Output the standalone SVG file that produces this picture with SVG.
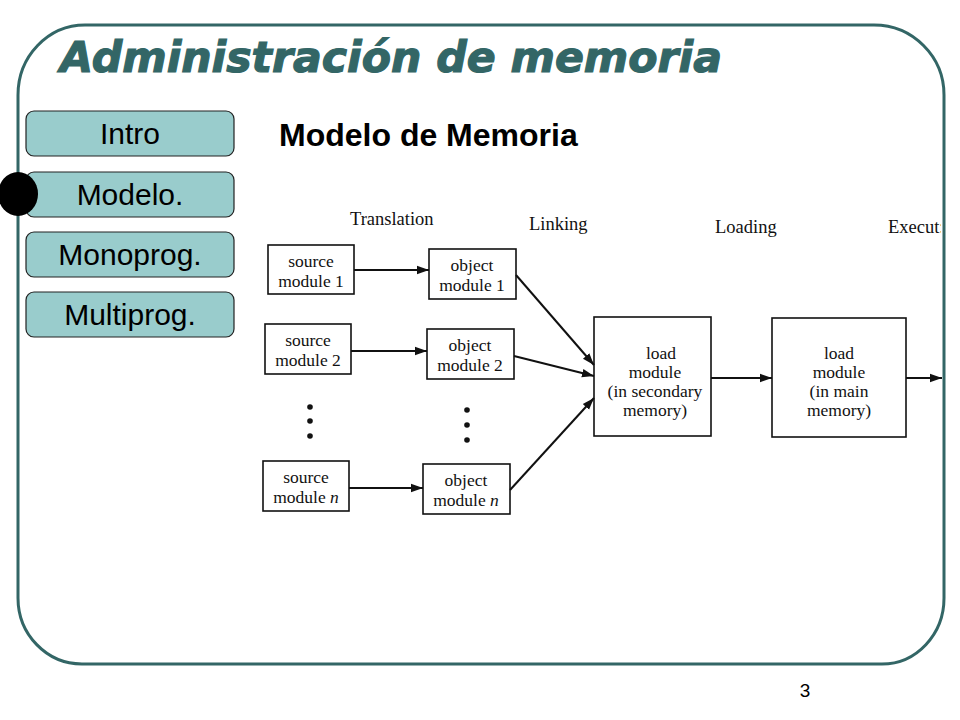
<svg xmlns="http://www.w3.org/2000/svg" width="960" height="720" viewBox="0 0 960 720">
<defs>
<style>
.btn{fill:#99CCCC;stroke:#222;stroke-width:1.2}
.btxt{font-family:"Liberation Sans",Arial,sans-serif;font-size:30px;fill:#000;text-anchor:middle}
.box{fill:#fff;stroke:#111;stroke-width:1.6}
.t{font-family:"Liberation Serif","Times New Roman",serif;font-size:17.5px;fill:#111;text-anchor:middle}
.lbl{font-family:"Liberation Serif","Times New Roman",serif;font-size:18.5px;fill:#111}
.arr{stroke:#111;stroke-width:2;fill:none;marker-end:url(#ah)}
</style>
<marker id="ah" viewBox="0 0 10 10" refX="10" refY="5" markerWidth="6" markerHeight="6" markerUnits="strokeWidth" orient="auto">
<path d="M0,1.5 L10,5 L0,8.5 Z" fill="#111"/>
</marker>
<clipPath id="imgclip"><rect x="250" y="190" width="691" height="340"/></clipPath>
</defs>
<rect width="960" height="720" fill="#fff"/>
<path d="M 85 25 H 874 A 70 70 0 0 1 944 95 V 598 A 62 66 0 0 1 882 664 H 82 A 64 66 0 0 1 18 598 V 95 A 67 70 0 0 1 85 25 Z" fill="none" stroke="#336666" stroke-width="3"/>
<text x="60" y="72" font-family="'DejaVu Sans',Verdana,sans-serif" font-weight="bold" font-style="italic" font-size="43" fill="#336666" stroke="#336666" stroke-width="1.2" textLength="662" lengthAdjust="spacingAndGlyphs">Administración de memoria</text>

<g id="menu-intro"><rect class="btn" x="26" y="111" width="208" height="45" rx="8"/><text class="btxt" x="130" y="144">Intro</text></g>
<g id="menu-modelo"><rect class="btn" x="26" y="172" width="208" height="45" rx="8"/><text class="btxt" x="130" y="205">Modelo.</text></g>
<g id="menu-monoprog"><rect class="btn" x="26" y="232" width="208" height="45" rx="8"/><text class="btxt" x="130" y="265">Monoprog.</text></g>
<g id="menu-multiprog"><rect class="btn" x="26" y="292" width="208" height="45" rx="8"/><text class="btxt" x="130" y="325">Multiprog.</text></g>
<ellipse id="bullet" cx="18" cy="194" rx="20" ry="22" fill="#000"/>

<text x="279" y="146" font-family="'Liberation Sans',Arial,sans-serif" font-weight="bold" font-size="32" fill="#000">Modelo de Memoria</text>

<g id="stage-labels" clip-path="url(#imgclip)">
<text class="lbl" x="350" y="225">Translation</text>
<text class="lbl" x="529" y="230">Linking</text>
<text class="lbl" x="715" y="233">Loading</text>
<text class="lbl" x="888" y="233">Execut:</text>
</g>

<g id="source1"><rect class="box" x="268" y="245" width="86" height="49"/><text class="t" x="311" y="267">source</text><text class="t" x="311" y="287">module 1</text></g>
<g id="source2"><rect class="box" x="265" y="324" width="86" height="50"/><text class="t" x="308" y="346">source</text><text class="t" x="308" y="366">module 2</text></g>
<g id="sourcen"><rect class="box" x="263" y="461" width="86" height="50"/><text class="t" x="306" y="483">source</text><text class="t" x="306" y="503">module <tspan font-style="italic">n</tspan></text></g>

<g id="object1"><rect class="box" x="429" y="249" width="87" height="50"/><text class="t" x="472" y="271">object</text><text class="t" x="472" y="291">module 1</text></g>
<g id="object2"><rect class="box" x="427" y="329" width="87" height="50"/><text class="t" x="470" y="351">object</text><text class="t" x="470" y="371">module 2</text></g>
<g id="objectn"><rect class="box" x="423" y="464" width="87" height="50"/><text class="t" x="466" y="486">object</text><text class="t" x="466" y="506">module <tspan font-style="italic">n</tspan></text></g>

<g id="dots" fill="#111">
<circle cx="310" cy="407" r="2.8"/><circle cx="310" cy="421" r="2.8"/><circle cx="310" cy="436" r="2.8"/>
<circle cx="467" cy="410" r="2.8"/><circle cx="467" cy="425" r="2.8"/><circle cx="467" cy="440" r="2.8"/>
</g>

<g id="load-secondary"><rect class="box" x="594" y="317" width="117" height="119"/>
<text class="t" x="661" y="359">load</text><text class="t" x="655" y="378">module</text><text class="t" x="655" y="397">(in secondary</text><text class="t" x="655" y="416">memory)</text></g>
<g id="load-main"><rect class="box" x="772" y="318" width="134" height="119"/>
<text class="t" x="839" y="359">load</text><text class="t" x="839" y="378">module</text><text class="t" x="839" y="397">(in main</text><text class="t" x="839" y="416">memory)</text></g>

<g id="connectors">
<line class="arr" x1="354" y1="270" x2="429" y2="270"/>
<line class="arr" x1="351" y1="351" x2="427" y2="351"/>
<line class="arr" x1="349" y1="488" x2="423" y2="488"/>
<line class="arr" x1="516" y1="275" x2="594" y2="365"/>
<line class="arr" x1="514" y1="356" x2="594" y2="376"/>
<line class="arr" x1="510" y1="490" x2="594" y2="398"/>
<line class="arr" x1="711" y1="378" x2="772" y2="378"/>
<line class="arr" x1="906" y1="378" x2="942" y2="378"/>
</g>

<text x="805" y="697" font-family="'Liberation Sans',Arial,sans-serif" font-size="19" fill="#000" text-anchor="middle">3</text>
</svg>
